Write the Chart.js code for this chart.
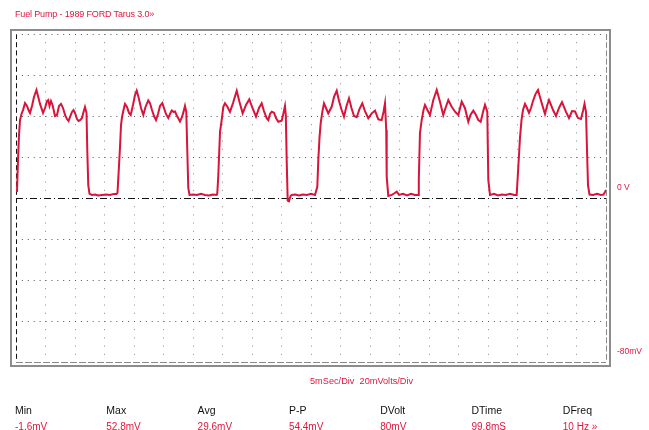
<!DOCTYPE html>
<html>
<head>
<meta charset="utf-8">
<script src="https://cdn.jsdelivr.net/npm/chart.js@4"></script>
<style>
  body { margin:0; background:#fff; font-family:"Liberation Sans", Arial, sans-serif; }
  #wrap { position:relative; width:649px; height:430px; overflow:hidden; }
  #frame { position:absolute; left:10px; top:29px; width:601px; height:338px; box-sizing:border-box; border:2px solid #8c8c8c; }
  #scope { position:absolute; left:0; top:0; }
  .txt { position:absolute; white-space:nowrap; line-height:1; }
  .red { color:#e0163e; }
  .title { left:15px; top:10px; font-size:9px; letter-spacing:-0.15px; }
  .scale { left:310px; top:377px; font-size:9.2px; }
  .lab { top:405px; font-size:10.5px; color:#111; }
  .val { top:422px; font-size:10px; }
</style>
</head>
<body>
<div id="wrap">
  <div id="frame"></div>
  <canvas id="scope" width="649" height="430"></canvas>
  <div class="txt red title">Fuel Pump - 1989 FORD Tarus 3.0»</div>
  <div class="txt red scale">5mSec/Div&nbsp;&nbsp;20mVolts/Div</div>
  <div id="meas"></div>
</div>
<script>
"use strict";
// trace: time in ms, level in mV
const timeMs = [
  0.17, 0.34, 0.51, 0.68, 0.93, 1.19, 1.53, 1.86, 2.12, 2.37, 2.71, 3.05, 3.47, 3.73, 4.07, 4.58, 4.92, 5.25, 5.47, 5.68,
  5.93, 6.19, 6.61, 6.95, 7.29, 7.63, 7.97, 8.31, 8.64, 8.90, 9.15, 9.49, 9.75, 10.0, 10.34, 10.59, 10.85, 11.19, 11.44, 11.69,
  11.95, 12.08, 12.25, 12.46, 12.88, 13.39, 13.90, 14.58, 15.25, 15.93, 16.61, 17.03,
  17.20, 17.37, 17.63, 17.80, 17.97, 18.22, 18.47, 18.81, 19.15, 19.44, 19.83, 20.17, 20.46, 20.76, 21.19, 21.58, 21.95, 22.42,
  22.71, 23.05, 23.39, 23.73, 24.07, 24.41, 24.80, 25.08, 25.42, 25.81, 26.10, 26.39, 26.69, 26.95, 27.29, 27.80, 28.14, 28.39,
  28.64, 28.86, 29.03, 29.20, 29.41, 30.0, 30.68, 31.36, 32.03, 32.71, 33.39, 34.02,
  34.12, 34.29, 34.58, 34.86, 35.14, 35.42, 35.85, 36.27, 36.78, 37.41, 37.88, 38.42, 38.98, 39.54, 40.08, 40.68, 41.19, 41.64,
  42.03, 42.49, 42.76, 43.05, 43.34, 43.73, 44.07, 44.46, 45.03, 45.34, 45.59, 45.73, 45.88, 46.05, 46.27, 46.53, 46.73, 47.29,
  47.97, 48.64, 49.32, 50.0, 50.68, 51.07,
  51.24, 51.44, 51.64, 51.92, 52.20, 52.54, 52.93, 53.51, 53.90, 54.36, 54.75, 55.20, 55.59, 56.02, 56.44, 56.86, 57.29, 57.75,
  58.22, 58.69, 59.15, 59.71, 60.29, 60.85, 61.41, 61.98, 62.29, 62.54, 62.75, 62.83, 63.10, 63.68, 64.07, 64.53, 64.92, 65.59,
  66.27, 66.95, 67.63, 68.19,
  68.27, 68.47, 68.76, 69.07, 69.32, 69.88, 70.17, 70.73, 71.31, 71.86, 72.42, 72.80, 73.27, 73.85, 74.41, 74.97, 75.54, 76.10,
  76.66, 77.03, 77.51, 77.97, 78.36, 78.76, 79.15, 79.49, 79.88, 80.05, 80.34, 81.02, 81.69, 82.37, 83.05, 83.73, 84.41, 84.86,
  85.14, 85.42, 85.68, 85.93, 86.27, 86.61, 86.95, 87.29, 87.63, 88.05, 88.47, 88.81, 89.15, 89.66, 90.0, 90.34, 90.68, 91.02,
  91.53, 92.03, 92.54, 92.88, 93.22, 93.73, 94.24, 94.75, 95.25, 95.76, 96.10, 96.36, 96.61, 96.78, 96.95, 97.20, 97.80, 98.47,
  99.15, 99.58, 99.83, 100.0
];
const levelMv = [
  2.9, 18.5, 30.7, 38.0, 41.0, 42.9, 46.3, 44.9, 42.9, 41.5, 44.9, 49.3, 52.7, 49.8, 45.9, 41.5, 43.9, 47.3, 47.8, 44.9,
  47.3, 45.4, 40.0, 40.5, 44.9, 45.9, 43.9, 40.5, 38.5, 37.6, 39.5, 42.0, 42.9, 41.5, 38.5, 37.6, 38.0, 39.0, 42.0, 44.4,
  41.5, 23.4, 6.3, 2.0, 1.5, 1.7, 1.2, 1.5, 1.7, 1.5, 2.0, 2.0,
  2.4, 11.2, 24.9, 35.6, 39.5, 42.9, 45.9, 44.4, 41.5, 40.5, 45.4, 50.2, 52.4, 49.3, 43.9, 40.5, 44.4, 47.6,
  46.3, 42.9, 40.0, 38.0, 41.0, 44.9, 46.3, 43.9, 41.0, 39.0, 41.0, 42.7, 42.0, 42.2, 40.0, 37.3, 39.5, 42.0,
  44.9, 42.0, 23.4, 4.9, 1.5, 1.7, 1.5, 2.0, 1.5, 1.2, 1.7, 1.5,
  2.3, 11.2, 32.3, 38.0, 44.5, 46.2, 44.4, 42.0, 46.3, 52.3, 46.8, 41.3, 45.4, 48.1, 43.9, 39.7, 43.9, 46.2,
  42.4, 38.9, 38.0, 41.0, 42.1, 41.6, 39.0, 37.2, 37.7, 41.5, 44.9, 40.5, 18.5, -1.3, -1.6, 1.0, 1.5, 1.7,
  1.2, 1.7, 1.5, 2.0, 1.5, 5.5,
  18.5, 29.3, 36.4, 42.0, 46.2, 43.9, 41.3, 44.5, 49.3, 52.3, 47.3, 42.9, 39.7, 44.9, 48.6, 43.9, 40.0, 39.4,
  43.4, 46.2, 42.4, 38.9, 41.3, 42.6, 38.4, 38.0, 42.0, 46.2, 33.2, 10.4, 1.0, 1.5, 2.2, 3.1, 1.5, 2.0,
  1.2, 2.0, 1.5, 1.5,
  8.8, 31.7, 38.0, 42.9, 45.4, 42.1, 40.5, 47.8, 52.7, 47.0, 40.5, 43.9, 47.8, 44.5, 42.1, 40.5, 47.0, 43.8,
  37.2, 40.5, 42.6, 40.5, 38.0, 37.2, 42.0, 45.4, 42.1, 8.8, 1.5, 2.0, 1.2, 1.7, 1.5, 2.0, 1.5, 1.5,
  15.3, 29.3, 38.0, 42.9, 45.9, 43.9, 41.5, 43.9, 47.3, 50.7, 52.7, 49.3, 45.9, 41.0, 44.9, 47.8, 45.4, 42.9,
  40.0, 43.9, 46.8, 44.4, 42.0, 39.0, 42.4, 42.2, 39.0, 38.5, 42.4, 45.9, 42.0, 23.4, 6.3, 1.7, 1.5, 2.0,
  1.5, 1.7, 2.9, 3.9
];
const msPerDiv = 5;
const mvPerDiv = 20;
const screenMs = [0, 100];
const screenMv = [-80, 80];
const measNames = ["Min", "Max", "Avg", "P-P", "DVolt", "DTime", "DFreq"];
const measValues = ["-1.6mV", "52.8mV", "29.6mV", "54.4mV", "80mV", "99.8mS", "10 Hz »"];

const TRACE_RED = "#d8143a";

// measurement row under the screen
const meas = document.getElementById("meas");
meas.innerHTML = measNames.map((n, i) => {
  const left = 15 + i * 91.3;
  return `<div class="txt lab" style="left:${left}px;">${n}</div>` +
         `<div class="txt red val" style="left:${left}px;">${measValues[i]}</div>`;
}).join("");

const points = timeMs.map((t, i) => ({ x: t, y: levelMv[i] }));

new Chart(document.getElementById("scope").getContext("2d"), {
  type: "line",
  data: {
    datasets: [{
      data: points,
      borderColor: TRACE_RED,
      borderWidth: 2,
      pointRadius: 0,
      tension: 0,
      fill: false
    }]
  },
  options: {
    responsive: false,
    animation: false,
    devicePixelRatio: 1,
    layout: { padding: { left: 16, top: 34, right: 0, bottom: 68 } },
    plugins: { legend: { display: false }, tooltip: { enabled: false } },
    scales: {
      x: {
        type: "linear",
        min: screenMs[0], max: screenMs[1],
        afterFit: s => { s.height = 0; },
        ticks: { display: false, stepSize: msPerDiv },
        grid: {
          drawTicks: false,
          lineWidth: 1,
          color: c => c.tick.value === screenMs[0] ? "#111" : (c.tick.value === screenMs[1] ? "#8a8a8a" : "#8c8c8c")
        },
        border: {
          display: false,
          dash: c => c.tick.value === screenMs[0] ? [5, 3.2] : (c.tick.value === screenMs[1] ? [6, 2.2] : [1, 7.2])
        }
      },
      y: {
        type: "linear",
        position: "right",
        min: screenMv[0], max: screenMv[1],
        afterFit: s => { s.width = 43; },
        ticks: {
          stepSize: mvPerDiv,
          autoSkip: false,
          padding: 11,
          labelOffset: -10,
          color: "#e0163e",
          font: { family: "'Liberation Sans', Arial, sans-serif", size: 8.5 },
          callback: v => v === 0 ? "0 V" : (v === screenMv[0] ? "-80mV" : "")
        },
        grid: {
          drawTicks: false,
          lineWidth: 1,
          color: c => c.tick.value === 0 ? "#111" : (c.tick.value === screenMv[0] ? "#8a8a8a" : "#555")
        },
        border: {
          display: false,
          dash: c => c.tick.value === 0 ? [7, 3, 1, 3] : (c.tick.value === screenMv[0] ? [7, 2] : [1, 4.9])
        }
      }
    }
  }
});
</script>
</body>
</html>
